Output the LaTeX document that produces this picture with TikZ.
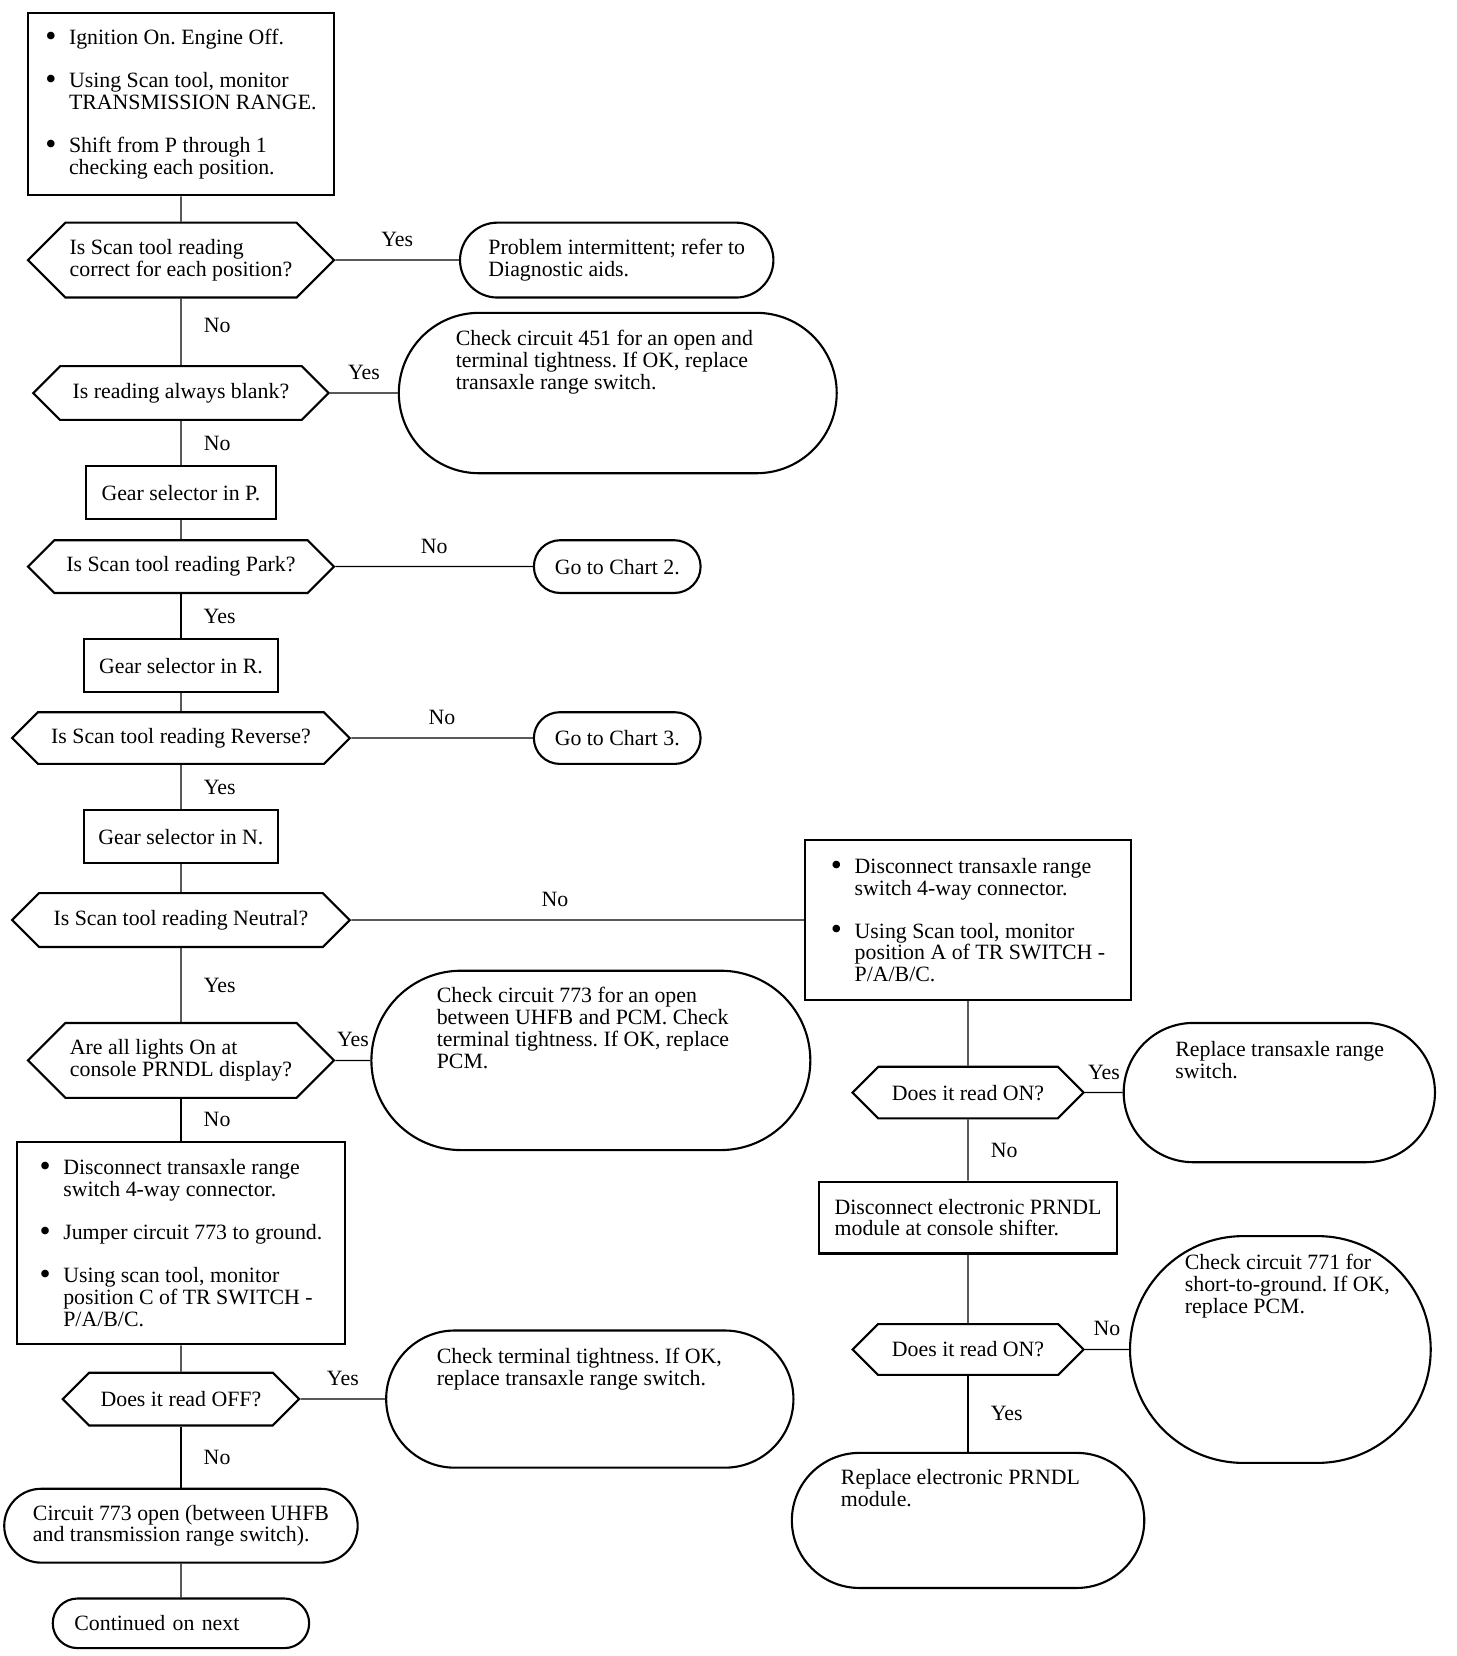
\documentclass[tikz,border=0pt]{standalone}
\usepackage{fontspec}
\setmainfont{Liberation Serif}
\usetikzlibrary{shapes.misc,shapes.symbols}
\frenchspacing
\newcommand{\bul}{\makebox[22.5pt][l]{\raisebox{-1.6pt}{\scalebox{1.45}{\textbullet}}}}
\newcommand{\indline}{\hspace*{22.5pt}}
\newcommand{\toptext}[3]{\parbox[c][#2][t]{#1}{\begin{tabular}{@{}l@{}}#3\end{tabular}}}

\begin{document}
\begin{tikzpicture}[x=1pt,y=-1pt,line width=1.2pt,
                    every node/.style={font=\fontsize{20.7}{20.5}\selectfont}]
  \tikzstyle{box}=[rectangle, draw, line width=2pt, inner sep=0pt, align=left]
  \tikzstyle{decision}=[signal, signal to=west and east, draw, line width=2pt,
    inner sep=0pt, align=left]
  \tikzstyle{term}=[rounded rectangle, draw, line width=2pt, inner sep=0pt, align=left]
  \tikzstyle{lab up}=[above=12pt, inner sep=0pt]
  \tikzstyle{lab side}=[right=21pt, inner sep=0pt]

  \useasboundingbox (0,0) rectangle (1380,1569.5);

  % left column
  \node[box, minimum width=290pt, minimum height=173pt] (top) at (171.5,98.5)
    {\bul Ignition On. Engine Off.\\[20.5pt]
     \bul Using Scan tool, monitor\\ \indline TRANSMISSION RANGE.\\[20.5pt]
     \bul Shift from P through 1\\ \indline checking each position.};
  \node[decision, minimum width=290pt, minimum height=71pt] (d1) at (171.5,246.5)
    {Is Scan tool reading\\correct for each position?};
  \node[term, minimum width=297pt, minimum height=71pt] (t1) at (584.5,246.5)
    {Problem intermittent; refer to\\Diagnostic aids.};
  \node[decision, minimum width=280pt, minimum height=51pt] (d2) at (171.5,372.5)
    {Is reading always blank?};
  \node[term, minimum width=415pt, minimum height=152pt] (t2) at (585.5,372.5)
    {\toptext{307pt}{119pt}{Check circuit 451 for an open and\\
     terminal tightness. If OK, replace\\transaxle range switch.}};
  \node[box, minimum width=180pt, minimum height=50pt] (selp) at (171.5,467)
    {Gear selector in P.};
  \node[decision, minimum width=290pt, minimum height=50pt] (d3) at (171.5,537)
    {Is Scan tool reading Park?};
  \node[term, minimum width=158pt, minimum height=50pt] (t3) at (585,537)
    {Go to Chart 2.};
  \node[box, minimum width=184pt, minimum height=50pt] (selr) at (171.5,631)
    {Gear selector in R.};
  \node[decision, minimum width=320pt, minimum height=49pt] (d4) at (171.5,699.5)
    {Is Scan tool reading Reverse?};
  \node[term, minimum width=158pt, minimum height=49pt] (t4) at (585,699.5)
    {Go to Chart 3.};
  \node[box, minimum width=184pt, minimum height=50pt] (seln) at (171.5,793)
    {Gear selector in N.};
  \node[decision, minimum width=320pt, minimum height=51pt] (d5) at (171.5,872)
    {Is Scan tool reading Neutral?};
  \node[decision, minimum width=290pt, minimum height=71pt] (d6) at (171.5,1005)
    {Are all lights On at\\console PRNDL display?};
  \node[term, minimum width=416pt, minimum height=170pt] (t5) at (560,1005)
    {\toptext{292pt}{138pt}{Check circuit 773 for an open\\
     between UHFB and PCM. Check\\terminal tightness. If OK, replace\\PCM.}};
  \node[box, minimum width=311pt, minimum height=192pt] (jump) at (171.5,1178)
    {\bul Disconnect transaxle range\\ \indline switch 4-way connector.\\[20.5pt]
     \bul Jumper circuit 773 to ground.\\[20.5pt]
     \bul Using scan tool, monitor\\ \indline position C of TR SWITCH -\\
     \indline P/A/B/C.};
  \node[decision, minimum width=224pt, minimum height=50pt] (d7) at (171.5,1326)
    {Does it read OFF?};
  \node[term, minimum width=386pt, minimum height=130pt] (t6) at (559,1326)
    {\toptext{290pt}{96pt}{Check terminal tightness. If OK,\\
     replace transaxle range switch.}};
  \node[term, minimum width=335pt, minimum height=70pt] (t7) at (171.5,1446)
    {Circuit 773 open (between UHFB\\and transmission range switch).};
  \node[term, minimum width=243pt, minimum height=47pt, text width=202pt]
    (t8) at (171.5,1538.5) {Continued on next};

  % right column
  \node[box, minimum width=309pt, minimum height=151pt] (disc) at (917.5,872)
    {\bul Disconnect transaxle range\\ \indline switch 4-way connector.\\[20.5pt]
     \bul Using Scan tool, monitor\\ \indline position A of TR SWITCH -\\
     \indline P/A/B/C.};
  \node[decision, minimum width=219pt, minimum height=49pt] (d8) at (917.5,1035.5)
    {Does it read ON?};
  \node[term, minimum width=295pt, minimum height=132pt] (t9) at (1212.5,1035.5)
    {\toptext{197pt}{97pt}{Replace transaxle range\\switch.}};
  \node[box, minimum width=282pt, minimum height=68pt] (prndl) at (917.5,1154)
    {Disconnect electronic PRNDL\\module at console shifter.};
  \node[decision, minimum width=219pt, minimum height=48pt] (d9) at (917.5,1279)
    {Does it read ON?};
  \node[term, minimum width=285pt, minimum height=215pt] (t10) at (1213.5,1279)
    {\toptext{181pt}{180pt}{Check circuit 771 for\\short-to-ground. If OK,\\
     replace PCM.}};
  \node[term, minimum width=334pt, minimum height=128pt] (t11) at (917.5,1441)
    {\toptext{241pt}{96pt}{Replace electronic PRNDL\\module.}};

  \draw
        (top) edge (d1)
        (d1) edge node[lab up] {Yes} (t1)
        (d1) edge node[lab side, pos=0.4] {No} (d2)
        (d2) edge node[lab up] {Yes} (t2)
        (d2) edge node[lab side] {No} (selp)
        (selp) edge (d3)
        (d3) edge node[lab up] {No} (t3)
        (d3) edge node[lab side] {Yes} (selr)
        (selr) edge (d4)
        (d4) edge node[lab up] {No} (t4)
        (d4) edge node[lab side] {Yes} (seln)
        (seln) edge (d5)
        (d5) edge node[lab up, pos=0.45] {No} (disc)
        (d5) edge node[lab side] {Yes} (d6)
        (d6) edge node[lab up] {Yes} (t5)
        (d6) edge node[lab side] {No} (jump)
        (jump) edge (d7)
        (d7) edge node[lab up] {Yes} (t6)
        (d7) edge node[lab side] {No} (t7)
        (t7) edge (t8)
        (disc) edge (d8)
        (d8) edge node[lab up] {Yes} (t9)
        (d8) edge node[lab side] {No} (prndl)
        (prndl) edge (d9)
        (d9) edge node[lab up] {No} (t10)
        (d9) edge node[lab side] {Yes} (t11);

\end{tikzpicture}
\end{document}
